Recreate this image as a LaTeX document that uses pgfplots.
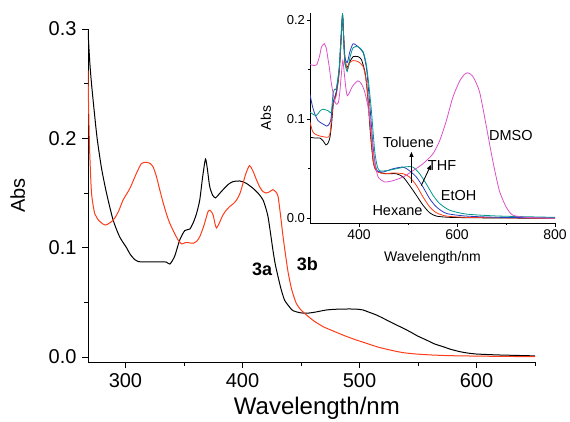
\documentclass[border=0pt]{standalone}
\usepackage{pgfplots}
\pgfplotsset{compat=1.18}
\usepackage{fontspec}
\setmainfont{Liberation Sans}
\usetikzlibrary{arrows.meta}
\definecolor{cred}{RGB}{255,60,25}
\definecolor{cblue}{RGB}{45,60,190}
\definecolor{cteal}{RGB}{0,150,140}
\definecolor{cpink}{RGB}{220,80,200}
\begin{document}
\begin{tikzpicture}
\useasboundingbox (-88pt,-59pt) rectangle (482pt,362pt);
\begin{axis}[
  at={(0pt,0pt)}, anchor=south west,
  scale only axis, width=447pt, height=333pt,
  xmin=268, xmax=650, ymin=-0.0046, ymax=0.3,
  axis lines=left, axis line style={-, line width=0.8pt},
  tick align=outside, major tick length=6pt, minor tick length=3.5pt,
  every tick/.style={line width=0.8pt, black},
  xtick={300,400,500,600}, minor xtick={350,450,550,650},
  ytick={0,0.1,0.2,0.3}, minor ytick={0.05,0.15,0.25},
  /pgf/number format/assume math mode=true,
  yticklabel style={/pgf/number format/fixed, /pgf/number format/fixed zerofill, /pgf/number format/precision=1, font=\fontsize{20}{22}\selectfont, xshift=-2pt},
  xticklabel style={/pgf/number format/1000 sep={}, font=\fontsize{20}{22}\selectfont, yshift=-2pt},
  xlabel={Wavelength/nm}, ylabel={Abs},
  xlabel style={at={(axis description cs:0.512,-0.138)}, anchor=center, font=\fontsize{24}{26}\selectfont},
  ylabel style={at={(axis description cs:-0.157,0.5)}, anchor=center, font=\fontsize{20}{22}\selectfont},
  clip=true,
]
\addplot[black, line width=1pt, smooth, tension=0.4] coordinates {
(268,0.298) (269.5,0.27) (271,0.25) (273.3,0.225) (275.8,0.2) (279.5,0.173) (283.8,0.15) (289.4,0.1255) (295,0.110) (300.9,0.100) (304,0.094) (308,0.089) (311,0.0872) (320,0.0870) (330,0.0870) (335,0.0868) (338,0.0850) (342,0.092) (346.4,0.107) (350.7,0.1156) (355,0.117) (358,0.123) (360.7,0.131) (363.5,0.1436) (366,0.165) (368.4,0.181) (370,0.172) (372,0.156) (374.5,0.148) (377,0.1455) (380,0.149) (383.4,0.153) (388,0.158) (392,0.1604) (397.7,0.161) (403,0.159) (409,0.1543) (414,0.149) (417.6,0.1436) (420,0.136) (421.9,0.128) (424,0.113) (426,0.098) (428,0.085) (430.4,0.0735) (433,0.062) (436,0.052) (440,0.046) (443,0.0425) (449,0.0405) (455,0.040) (462,0.041) (471.8,0.043) (481,0.0437) (491.7,0.0439) (498,0.0437) (503,0.043) (508,0.041) (514.5,0.0384) (521,0.035) (528.7,0.0308) (536,0.027) (543,0.0232) (550,0.019) (557,0.0156) (564,0.012) (571.5,0.0094) (578,0.007) (585.7,0.0049) (593,0.0035) (600,0.0027) (610,0.0022) (620,0.0018) (635,0.0014) (650,0.001)
};
\addplot[cred, line width=1pt, smooth, tension=0.4] coordinates {
(268,0.262) (268.5,0.23) (269,0.205) (269.5,0.186) (271,0.15) (273.8,0.131) (278,0.124) (283,0.1207) (289.4,0.125) (294,0.133) (298,0.1436) (303.7,0.154) (309.4,0.168) (313.7,0.177) (318,0.178) (321,0.177) (323.6,0.174) (326.5,0.165) (329.3,0.153) (332,0.142) (335,0.131) (338,0.122) (342,0.113) (345,0.107) (348,0.1034) (351,0.1045) (353.5,0.1046) (357.8,0.104) (361,0.106) (363.5,0.110) (367,0.120) (370.6,0.133) (372.5,0.134) (374.9,0.130) (376.5,0.122) (377.8,0.118) (380,0.122) (383.4,0.130) (386,0.134) (389,0.1375) (392,0.140) (395,0.1436) (398,0.150) (400.5,0.159) (403,0.168) (406,0.175) (409,0.170) (412,0.162) (415,0.155) (417.6,0.1512) (420,0.150) (423,0.151) (426,0.153) (428.5,0.151) (430.4,0.147) (432.5,0.130) (434.7,0.110) (437,0.092) (439,0.0775) (442,0.062) (446,0.049) (450,0.043) (454.7,0.0384) (461,0.033) (469,0.0277) (477,0.024) (486,0.020) (496,0.016) (506,0.0125) (516,0.009) (526,0.0064) (537,0.004) (548.5,0.0027) (562,0.0018) (577,0.0012) (600,0.0008) (625,0.0005) (650,0.0003)
};
\node[font=\fontsize{18}{20}\selectfont\bfseries] at (axis cs:416.9,0.0805) {3a};
\node[font=\fontsize{18}{20}\selectfont\bfseries] at (axis cs:455.4,0.085) {3b};
\end{axis}
\begin{axis}[
  at={(222pt,139pt)}, anchor=south west,
  scale only axis, width=245pt, height=210pt,
  xmin=300, xmax=800, ymin=-0.0047, ymax=0.207,
  axis lines=left, axis line style={-, line width=0.7pt},
  tick align=outside, major tick length=3.5pt, minor tick length=2pt,
  every tick/.style={line width=0.7pt, black},
  xtick={400,600,800}, minor xtick={500,700},
  ytick={0,0.1,0.2}, minor ytick={0.05,0.15},
  /pgf/number format/assume math mode=true,
  yticklabel style={/pgf/number format/fixed, /pgf/number format/fixed zerofill, /pgf/number format/precision=1, font=\fontsize{13}{15}\selectfont, xshift=2pt},
  xticklabel style={/pgf/number format/1000 sep={}, font=\fontsize{14}{16}\selectfont},
  xlabel={Wavelength/nm}, ylabel={Abs},
  xlabel style={at={(axis description cs:0.5,-0.167)}, anchor=center, font=\fontsize{14}{16}\selectfont},
  ylabel style={at={(axis description cs:-0.18,0.5)}, anchor=center, font=\fontsize{14}{16}\selectfont},
  clip=true,
]
\addplot[black, line width=0.8pt, smooth, tension=0.4] coordinates {
(300,0.0817) (310,0.081) (320,0.081) (327,0.078) (332.5,0.074) (337,0.076) (340.7,0.0817) (344,0.095) (347.5,0.115) (351,0.122) (354,0.128) (358,0.140) (361,0.158) (364,0.185) (366.4,0.205) (368.5,0.185) (371,0.158) (374.6,0.152) (378,0.154) (381.4,0.158) (388,0.163) (398,0.163) (405,0.160) (412,0.148) (415.5,0.135) (418.6,0.118) (423.4,0.085) (428.8,0.058) (433,0.050) (439,0.0467) (456,0.045) (476,0.045) (490,0.0417) (503,0.0333) (517,0.0233) (530.5,0.0133) (544,0.0057) (557.6,0.0023) (585,0.001) (650,0.0005) (800,0.0)
};
\addplot[cred, line width=0.8pt, smooth, tension=0.4] coordinates {
(300,0.097) (305,0.088) (310,0.085) (320,0.083) (334,0.0817) (338,0.082) (341,0.086) (344,0.100) (347.5,0.115) (351,0.120) (354,0.125) (359.7,0.148) (363,0.175) (366.4,0.203) (368.5,0.185) (371,0.165) (376,0.150) (381.4,0.157) (388,0.159) (398,0.158) (408.5,0.153) (415,0.138) (418.5,0.120) (422,0.098) (427.5,0.065) (431,0.053) (435.6,0.048) (449,0.045) (469.5,0.0457) (490,0.045) (503,0.0417) (517,0.0333) (530.5,0.0217) (544,0.0117) (557.6,0.0057) (578,0.0023) (618.6,0.001) (700,0.0005) (800,0.0)
};
\addplot[cblue, line width=0.8pt, smooth, tension=0.4] coordinates {
(300,0.125) (305,0.113) (310,0.105) (316,0.0987) (320,0.097) (334,0.093) (337,0.0937) (342,0.098) (344.5,0.108) (347.5,0.118) (351,0.123) (354,0.128) (359.7,0.152) (363,0.180) (366.4,0.205) (368.5,0.185) (371,0.163) (376,0.157) (381.4,0.168) (388,0.176) (398,0.173) (408.5,0.167) (415,0.152) (418.5,0.135) (422,0.115) (428.8,0.072) (433,0.055) (437,0.048) (449,0.0467) (469.5,0.050) (490,0.0517) (503,0.048) (517,0.0417) (530.5,0.0317) (544,0.020) (557.6,0.0117) (578,0.005) (618.6,0.0023) (686,0.001) (800,0.0005)
};
\addplot[cteal, line width=0.8pt, smooth, tension=0.4] coordinates {
(300,0.107) (306,0.105) (312.8,0.1036) (320,0.108) (326.4,0.110) (336.6,0.1086) (343.4,0.107) (346.8,0.125) (350,0.130) (353,0.130) (356,0.138) (359.7,0.152) (363,0.180) (366.4,0.2057) (368.5,0.185) (371,0.158) (376,0.148) (381.4,0.162) (388,0.172) (398,0.173) (408.5,0.168) (415,0.155) (420,0.135) (425.4,0.108) (432,0.068) (437,0.053) (442,0.048) (456,0.048) (476,0.050) (496.6,0.052) (510,0.0517) (523.7,0.045) (537,0.035) (551,0.0233) (564.4,0.015) (584.7,0.0083) (618.6,0.0043) (686,0.0023) (800,0.001)
};
\addplot[cpink, line width=0.8pt, smooth, tension=0.4] coordinates {
(300,0.155) (309.5,0.154) (314,0.155) (319.7,0.164) (323,0.172) (326.4,0.175) (329,0.176) (333,0.172) (336,0.163) (340,0.150) (343,0.138) (346.8,0.127) (350,0.119) (353.6,0.115) (358,0.117) (361,0.128) (363.7,0.1436) (367,0.159) (370.5,0.1436) (373,0.132) (376,0.1236) (380.7,0.127) (387.4,0.1336) (397.6,0.1386) (404.4,0.136) (411,0.1286) (418,0.1136) (424.7,0.090) (428.8,0.068) (433,0.055) (439,0.0417) (452.5,0.0367) (469.5,0.038) (490,0.0417) (510,0.048) (530.5,0.055) (550.8,0.065) (564.4,0.078) (578,0.098) (591.5,0.122) (605,0.138) (615,0.145) (622,0.1467) (632,0.1433) (645.8,0.128) (659,0.095) (673,0.058) (686.4,0.028) (700,0.0117) (713.6,0.0033) (740.7,0.001) (800,0.0)
};
\node[font=\fontsize{14.5}{16}\selectfont] at (axis cs:501,0.0763) {Toluene};
\node[font=\fontsize{14.5}{16}\selectfont] at (axis cs:569.5,0.0529) {THF};
\node[font=\fontsize{14.5}{16}\selectfont] at (axis cs:603.4,0.023) {EtOH};
\node[font=\fontsize{14.5}{16}\selectfont] at (axis cs:478.6,0.0076) {Hexane};
\node[font=\fontsize{14.5}{16}\selectfont] at (axis cs:710,0.083) {DMSO};
\draw[-{Triangle[length=5pt,width=4pt]}, line width=0.9pt] (axis cs:507,0.036) -- (axis cs:507,0.067);
\draw[-{Triangle[length=5pt,width=4pt]}, line width=0.9pt] (axis cs:527,0.033) -- (axis cs:547,0.054);
\end{axis}
\end{tikzpicture}
\end{document}
